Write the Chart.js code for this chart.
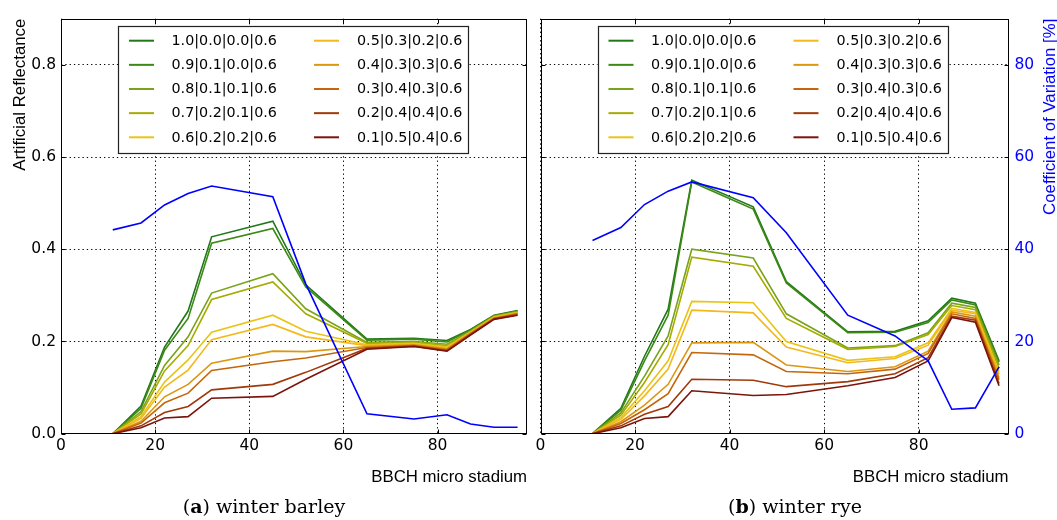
<!DOCTYPE html>
<html>
<head>
<meta charset="utf-8">
<script src="https://cdn.jsdelivr.net/npm/chart.js@4.4.1/dist/chart.umd.min.js"></script>
<style>
  html, body { margin: 0; padding: 0; background: #fff; width: 1057px; height: 520px; overflow: hidden; position: relative; }
  canvas { position: absolute; top: 0; }
  #chartBarley { left: 0; }
  #chartRye { left: 530px; }
  .caption { position: absolute; top: 495px; font-family: "DejaVu Serif", serif; font-size: 19px; color: #000; white-space: nowrap; transform: translateX(-50%); }
</style>
</head>
<body>
<canvas id="chartBarley" width="530" height="520"></canvas>
<canvas id="chartRye" width="527" height="520"></canvas>
<div class="caption" style="left:264px">(<b>a</b>) winter barley</div>
<div class="caption" style="left:795px">(<b>b</b>) winter rye</div>
<script>
// BBCH growth stages of the field campaign
const bbch = [11, 17, 22, 27, 32, 45, 52, 65, 75, 82, 87, 92, 97];

// mixture labels (shares | ... | soil moisture) and their line colours
const mixLabels = [
  '1.0|0.0|0.0|0.6', '0.9|0.1|0.0|0.6', '0.8|0.1|0.1|0.6', '0.7|0.2|0.1|0.6', '0.6|0.2|0.2|0.6',
  '0.5|0.3|0.2|0.6', '0.4|0.3|0.3|0.6', '0.3|0.4|0.3|0.6', '0.2|0.4|0.4|0.6', '0.1|0.5|0.4|0.6'
];
const mixColors = [
  '#20781b', '#3c8a14', '#79a318', '#a6ab02', '#e9c416',
  '#f2b81c', '#dc9712', '#c4670c', '#a03a0a', '#7b140b'
];

// winter barley: artificial reflectance per mixture
const barley10 = [0, 0.060, 0.188, 0.266, 0.427, 0.461, 0.323, 0.205, 0.207, 0.202, 0.226, 0.257, 0.267];
const barley09 = [0, 0.055, 0.181, 0.250, 0.413, 0.445, 0.318, 0.203, 0.205, 0.199, 0.225, 0.256, 0.266];
const barley08 = [0, 0.048, 0.148, 0.210, 0.305, 0.347, 0.271, 0.198, 0.200, 0.194, 0.223, 0.255, 0.265];
const barley07 = [0, 0.043, 0.136, 0.191, 0.291, 0.329, 0.260, 0.196, 0.198, 0.191, 0.221, 0.254, 0.264];
const barley06 = [0, 0.037, 0.112, 0.160, 0.220, 0.257, 0.222, 0.193, 0.196, 0.188, 0.220, 0.253, 0.263];
const barley05 = [0, 0.033, 0.101, 0.138, 0.204, 0.237, 0.210, 0.191, 0.194, 0.186, 0.219, 0.252, 0.262];
const barley04 = [0, 0.027, 0.080, 0.107, 0.153, 0.179, 0.178, 0.189, 0.193, 0.184, 0.218, 0.251, 0.261];
const barley03 = [0, 0.023, 0.067, 0.088, 0.137, 0.156, 0.164, 0.187, 0.191, 0.182, 0.217, 0.250, 0.260];
const barley02 = [0, 0.017, 0.046, 0.059, 0.095, 0.107, 0.133, 0.185, 0.190, 0.180, 0.215, 0.249, 0.258];
const barley01 = [0, 0.013, 0.034, 0.037, 0.077, 0.081, 0.118, 0.183, 0.189, 0.179, 0.214, 0.248, 0.257];
// winter barley: coefficient of variation [%]
const barleyCV = [44.2, 45.7, 49.6, 52.1, 53.7, 51.4, 32.5, 4.3, 3.2, 4.1, 2.1, 1.4, 1.4];

// winter rye: artificial reflectance per mixture
const rye10 = [0, 0.055, 0.168, 0.270, 0.550, 0.492, 0.330, 0.221, 0.222, 0.245, 0.294, 0.283, 0.158];
const rye09 = [0, 0.051, 0.158, 0.257, 0.546, 0.487, 0.327, 0.219, 0.220, 0.241, 0.290, 0.279, 0.155];
const rye08 = [0, 0.045, 0.125, 0.212, 0.400, 0.381, 0.260, 0.186, 0.191, 0.219, 0.283, 0.274, 0.149];
const rye07 = [0, 0.040, 0.111, 0.193, 0.383, 0.363, 0.250, 0.183, 0.189, 0.215, 0.278, 0.269, 0.142];
const rye06 = [0, 0.035, 0.093, 0.158, 0.287, 0.284, 0.200, 0.159, 0.167, 0.197, 0.272, 0.263, 0.135];
const rye05 = [0, 0.031, 0.082, 0.140, 0.268, 0.262, 0.188, 0.154, 0.163, 0.192, 0.268, 0.260, 0.129];
const rye04 = [0, 0.026, 0.062, 0.107, 0.197, 0.198, 0.149, 0.135, 0.145, 0.179, 0.264, 0.255, 0.122];
const rye03 = [0, 0.022, 0.052, 0.087, 0.176, 0.171, 0.135, 0.130, 0.140, 0.174, 0.260, 0.250, 0.117];
const rye02 = [0, 0.017, 0.042, 0.059, 0.118, 0.116, 0.102, 0.113, 0.130, 0.165, 0.255, 0.246, 0.109];
const rye01 = [0, 0.013, 0.033, 0.037, 0.093, 0.083, 0.085, 0.104, 0.122, 0.158, 0.252, 0.242, 0.104];
// winter rye: coefficient of variation [%]
const ryeCV = [41.9, 44.7, 49.7, 52.6, 54.6, 51.2, 43.6, 25.7, 21.2, 15.8, 5.3, 5.6, 14.5];

// axis ticks
const xTicks = [0, 20, 40, 60, 80];
const reflTicks = [0.0, 0.2, 0.4, 0.6, 0.8];
const cvTicks = [0, 20, 40, 60, 80];

const barleySeries = [barley10, barley09, barley08, barley07, barley06, barley05, barley04, barley03, barley02, barley01];
const ryeSeries = [rye10, rye09, rye08, rye07, rye06, rye05, rye04, rye03, rye02, rye01];

const tickFont = { family: '"DejaVu Sans", sans-serif', size: 15.5 };
const gridStyle = { color: '#000', lineWidth: 1, drawTicks: false };
const dotted = { display: false, dash: [1.3, 3] };

function keepTicks(list) {
  return scale => {
    scale.ticks = scale.ticks.filter(t => list.some(v => Math.abs(v - t.value) < 1e-9));
  };
}

function buildDatasets(series, cv) {
  const sets = series.map((arr, i) => ({
    label: mixLabels[i],
    data: bbch.map((x, k) => ({ x: x, y: arr[k] })),
    borderColor: mixColors[i],
    backgroundColor: mixColors[i],
    borderWidth: 1.6,
    pointRadius: 0,
    fill: false,
    yAxisID: 'y',
    order: -i
  }));
  sets.push({
    label: 'Coefficient of Variation',
    data: bbch.map((x, k) => ({ x: x, y: cv[k] })),
    borderColor: '#0000ff',
    backgroundColor: '#0000ff',
    borderWidth: 1.6,
    pointRadius: 0,
    fill: false,
    yAxisID: 'y2',
    order: -100,
    inLegend: false
  });
  return sets;
}

// box around the plotting area with inward tick marks on all four sides
const framePlugin = {
  id: 'frame',
  afterDatasetsDraw(chart) {
    const { ctx, chartArea: a, scales } = chart;
    const L = Math.round(a.left) + 0.5, R = Math.round(a.right) - 0.5;
    const T = Math.round(a.top) + 0.5, B = Math.round(a.bottom) - 0.5;
    ctx.save();
    ctx.strokeStyle = '#000';
    ctx.lineWidth = 1;
    ctx.setLineDash([]);
    ctx.beginPath();
    scales.x.ticks.forEach(t => {
      const px = Math.round(scales.x.getPixelForValue(t.value)) + 0.5;
      ctx.moveTo(px, B); ctx.lineTo(px, B - 4);
      ctx.moveTo(px, T); ctx.lineTo(px, T + 4);
    });
    scales.y.ticks.forEach(t => {
      const py = Math.round(scales.y.getPixelForValue(t.value)) + 0.5;
      ctx.moveTo(L, py); ctx.lineTo(L + 4, py);
      ctx.moveTo(R, py); ctx.lineTo(R - 4, py);
    });
    ctx.stroke();
    ctx.strokeRect(L, T, R - L, B - T);
    ctx.restore();
  }
};

// two-column legend box drawn inside the plotting area
const mixLegendPlugin = {
  id: 'mixLegend',
  afterDraw(chart, args, opts) {
    const { ctx, chartArea: a } = chart;
    const x0 = a.left + opts.dx, y0 = a.top + opts.dy;
    ctx.save();
    ctx.fillStyle = '#fff';
    ctx.fillRect(x0, y0, opts.w, opts.h);
    ctx.strokeStyle = '#222';
    ctx.lineWidth = 1.2;
    ctx.strokeRect(Math.round(x0) + 0.5, Math.round(y0) + 0.5, opts.w, opts.h);
    ctx.font = '14.3px "DejaVu Sans", sans-serif';
    ctx.textBaseline = 'middle';
    ctx.textAlign = 'left';
    const items = chart.data.datasets.filter(d => d.inLegend !== false);
    items.forEach((d, i) => {
      const col = Math.floor(i / 5), row = i % 5;
      const cy = y0 + opts.firstRow + row * opts.rowGap;
      const lx = x0 + opts.lineX[col];
      ctx.strokeStyle = d.borderColor;
      ctx.lineWidth = 2;
      ctx.beginPath();
      ctx.moveTo(lx, cy); ctx.lineTo(lx + 25, cy);
      ctx.stroke();
      ctx.fillStyle = '#000';
      ctx.fillText(d.label, x0 + opts.textX[col], cy + 0.5);
    });
    ctx.restore();
  }
};

// rotated axis titles, right-aligned to the top of the plotting area
const sideTitlesPlugin = {
  id: 'sideTitles',
  afterDraw(chart, args, opts) {
    const { ctx, chartArea: a } = chart;
    ctx.save();
    ctx.font = '16.8px "Liberation Sans", Arial, sans-serif';
    ctx.textBaseline = 'middle';
    ctx.textAlign = 'right';
    (opts.items || []).forEach(it => {
      ctx.save();
      ctx.translate(it.x, a.top);
      ctx.rotate(-Math.PI / 2);
      ctx.fillStyle = it.color;
      ctx.fillText(it.text, 0, 0);
      ctx.restore();
    });
    ctx.restore();
  }
};

const legendGeom = { dx: 57, dy: 7.5, w: 350, h: 127, firstRow: 14.5, rowGap: 24.15, lineX: [11, 196], textX: [53.5, 239] };

function makeChart(canvasId, series, cv, isRight) {
  const scales = {
    x: {
      type: 'linear', min: 0, max: 99,
      afterBuildTicks: keepTicks(xTicks),
      afterFit: s => { s.height = 54; },
      grid: gridStyle, border: dotted,
      ticks: { stepSize: 20, padding: 3, color: '#000', font: tickFont, maxRotation: 0, callback: v => String(v) },
      title: { display: true, text: 'BBCH micro stadium', align: 'end', color: '#000', padding: 0,
               font: { family: '"Liberation Sans", Arial, sans-serif', size: 16.8 } }
    },
    y: {
      type: 'linear', position: 'left', min: 0, max: 0.9,
      afterBuildTicks: keepTicks(reflTicks),
      afterFit: s => { s.width = isRight ? 10.5 : 61; },
      grid: gridStyle, border: dotted,
      ticks: { display: !isRight, stepSize: 0.2, padding: 5, color: '#000', font: tickFont, callback: v => v.toFixed(1) }
    },
    y2: {
      type: 'linear', position: 'right', min: 0, max: 90, display: isRight,
      afterBuildTicks: keepTicks(cvTicks),
      afterFit: s => { s.width = isRight ? 48.5 : 0; },
      grid: { drawOnChartArea: false, drawTicks: false },
      border: { display: false },
      ticks: { stepSize: 20, padding: 6, color: '#0000ff', font: tickFont, callback: v => String(v) }
    }
  };
  const titles = [];
  if (!isRight) titles.push({ text: 'Artificial Reflectance', x: 20.2, color: '#000' });
  if (isRight) titles.push({ text: 'Coefficient of Variation [%]', x: 520.3, color: '#0000ff' });

  return new Chart(document.getElementById(canvasId), {
    type: 'line',
    data: { datasets: buildDatasets(series, cv) },
    options: {
      responsive: false,
      animation: false,
      devicePixelRatio: 1,
      events: [],
      layout: { padding: { top: 18.7, right: isRight ? 0 : 3, bottom: 32.3, left: 0 } },
      scales: scales,
      plugins: {
        legend: { display: false },
        tooltip: { enabled: false },
        mixLegend: legendGeom,
        sideTitles: { items: titles }
      }
    },
    plugins: [framePlugin, mixLegendPlugin, sideTitlesPlugin]
  });
}

makeChart('chartBarley', barleySeries, barleyCV, false);
makeChart('chartRye', ryeSeries, ryeCV, true);
</script>
</body>
</html>
